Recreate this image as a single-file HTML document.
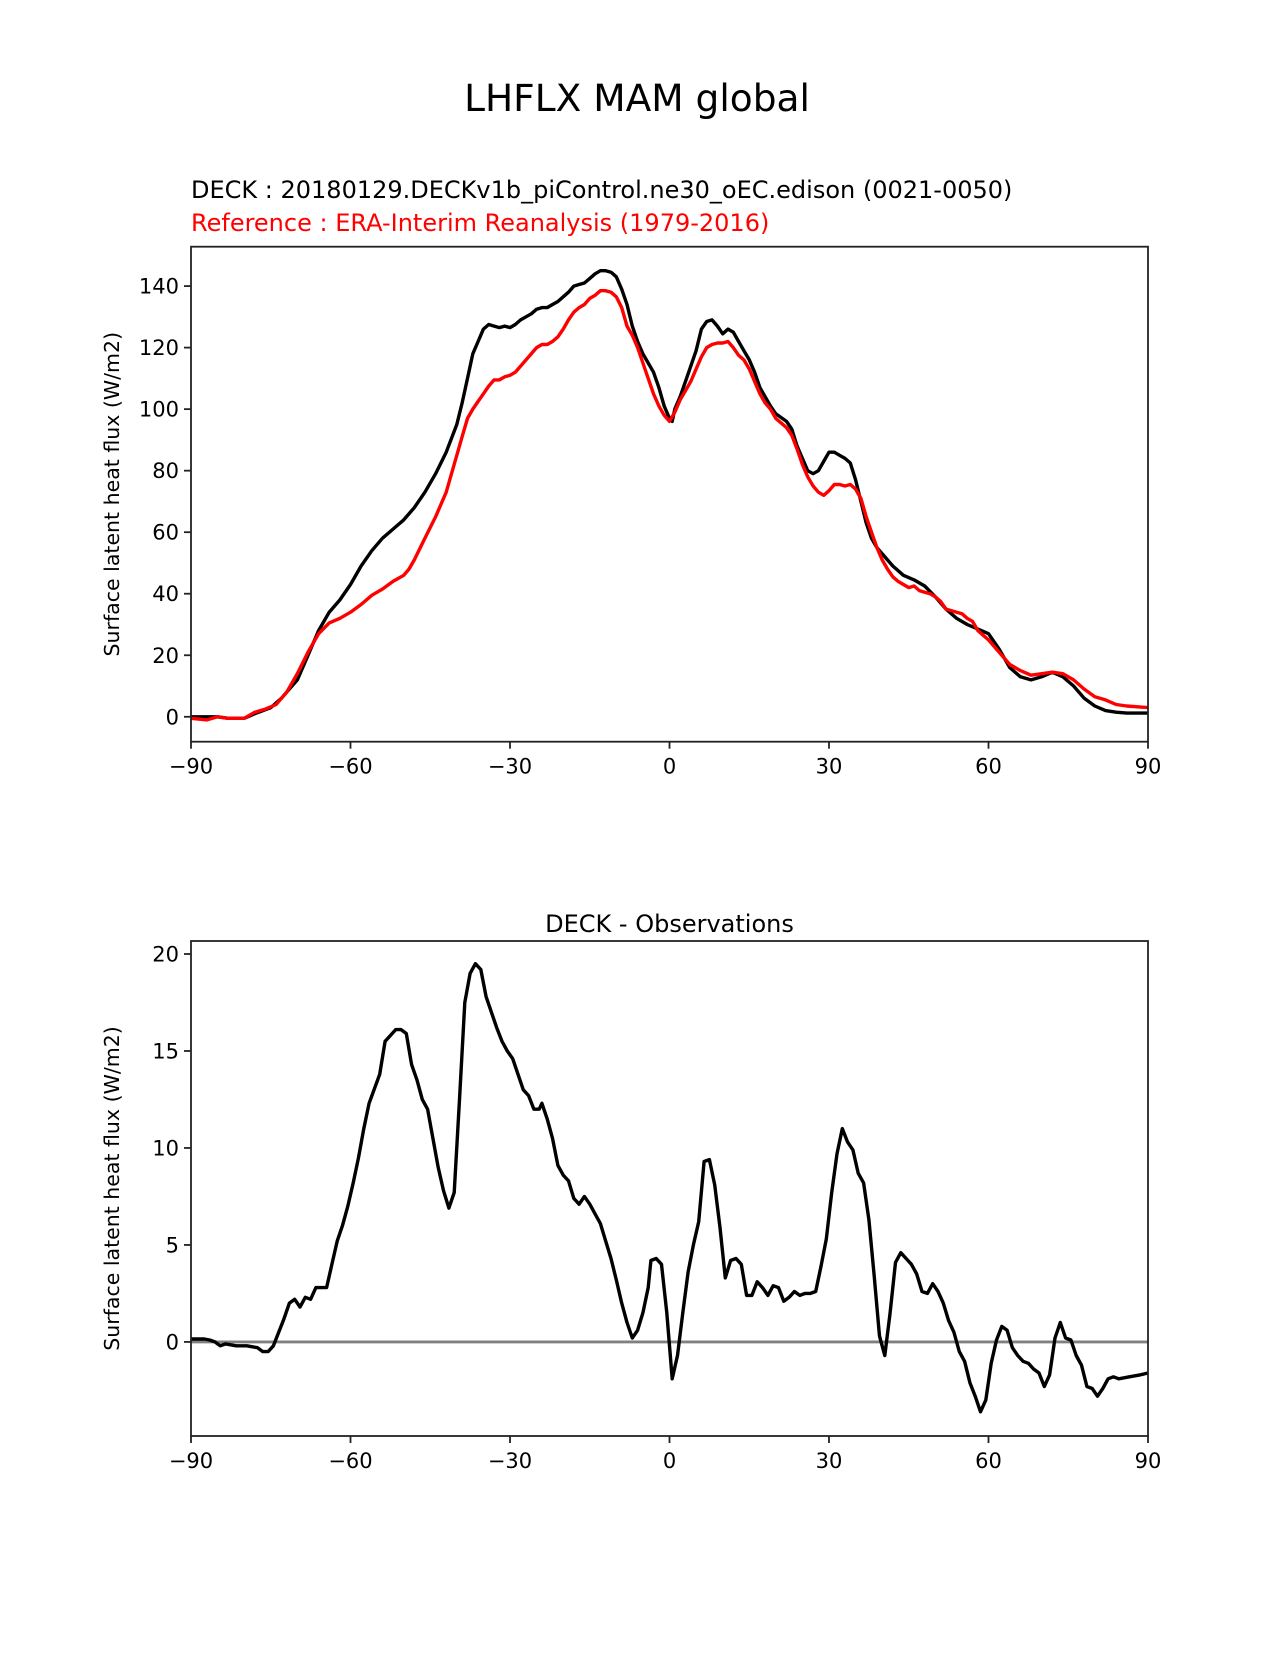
<!DOCTYPE html>
<html><head><meta charset="utf-8"><style>
html,body{margin:0;padding:0;background:#fff}
svg text{font-family:"DejaVu Sans","Liberation Sans",sans-serif}
</style></head><body>
<svg id="fig" width="1275" height="1650" viewBox="0 0 1275 1650" xmlns="http://www.w3.org/2000/svg">
<rect width="1275" height="1650" fill="#fff"/>
<text x="637" y="111" font-size="37.5" text-anchor="middle">LHFLX MAM global</text>
<text x="191" y="198" font-size="24">DECK : 20180129.DECKv1b_piControl.ne30_oEC.edison (0021-0050)</text>
<text x="191" y="231" font-size="24" fill="#ff0000">Reference : ERA-Interim Reanalysis (1979-2016)</text>
<text x="669.5" y="932" font-size="24" text-anchor="middle">DECK - Observations</text>
<g id="top"></g>
<g id="bot"></g>
</svg>
<script>
const lat1=[-90,-87,-85,-83,-80,-78,-75,-73,-70,-68,-66,-64,-62,-60,-58,-56,-54,-52,-50,-48,-46,-44,-42,-40,-39,-38,-37,-36,-35,-34,-33,-32,-31,-30,-29,-28,-27,-26,-25,-24,-23,-22,-21,-20,-19,-18,-17,-16,-15,-14,-13,-12,-11,-10,-9,-8,-7,-6,-5,-4,-3,-2,-1,0,0.5,1,2,3,4,5,6,7,8,9,10,11,12,13,14,15,16,17,18,19,20,22,23,24,25,26,27,28,29,30,31,32,33,34,35,36,37,38,39,40,42,44,46,48,50,52,54,56,58,60,62,64,66,68,70,72,74,76,78,80,82,84,86,90];
const deck=[0,0,0,-0.5,-0.5,1,3,6,12,20,28,34,38,43,49,54,58,61,64,68,73,79,86,95,102,110,118,122,126,127.5,127,126.5,127,126.5,127.5,129,130,131,132.5,133,133,134,135,136.5,138,140,140.5,141,142.5,144,145,145,144.5,143,139,134,127,122,118,115,112,107,101,97,96,100,104,109,114,119,126,128.5,129,127,124.5,126,125,122,119,116,112,107,104,101,98.5,96,93.5,88,84,80,79,80,83,86,86,85,84,82.5,77,70,63,58,55,53,49,46,44.5,42.5,39,35,32,30,28.5,27,22,16,13,12,13,14.5,13,10,6,3.5,2,1.5,1.2,1.2];
const lat2=[-90,-87,-85,-83,-80,-78,-76,-74,-72,-70,-68,-66,-64,-62,-60,-58,-56,-54,-52,-50,-49,-48,-46,-44,-42,-41,-40,-39,-38,-37,-36,-35,-34,-33,-32,-31,-30,-29,-28,-27,-26,-25,-24,-23,-22,-21,-20,-19,-18,-17,-16,-15,-14,-13,-12,-11,-10,-9,-8,-7,-6,-5,-4,-3,-2,-1,0,1,2,3,4,5,6,7,8,9,10,11,12,13,14,15,16,17,18,19,20,22,23,24,25,26,27,28,29,30,31,32,33,34,35,36,37,38,39,40,41,42,43,44,45,46,47,48,49,50,51,52,53,54,55,56,57,58,59,60,62,64,66,68,70,72,74,76,78,80,82,84,86,90];
const era=[-0.5,-1,0,-0.5,-0.5,1.5,2.5,4,8,14,21,27,30.5,32,34,36.5,39.5,41.5,44,46,48,51,58,65,73,79,85,91,97,100,102.5,105,107.5,109.5,109.5,110.5,111,112,114,116,118,120,121,121,122,123.5,126,129,131.5,133,134,136,137,138.5,138.5,138,136.5,133,127,124,120,115,110,105,101,98,96,99,103,106,109,113,117,120,121,121.5,121.5,122,120,117.5,116,113,109,105,102,100,97,94,91.5,87,82,78,75,73,72,73.5,75.5,75.5,75,75.5,74,71,65,60,55,51,48,45.5,44,43,42,42.5,41,40.5,40,39,37.5,35,34.5,34,33.5,32,31,28,26.5,25,21,17,15,13.5,14,14.5,14,12,9,6.5,5.5,4,3.5,3];
const lat3=[-90,-87.5,-86.5,-85.5,-84.5,-83.5,-81.5,-79.5,-77.5,-76.5,-75.5,-74.5,-73.5,-72.5,-71.5,-70.5,-69.5,-68.5,-67.5,-66.5,-65.5,-64.5,-63.5,-62.5,-61.5,-60.5,-59.5,-58.5,-57.5,-56.5,
-54.5,-53.5,-52.5,-51.5,-50.5,-49.5,-48.5,-47.5,-46.5,-45.5,-44.5,-43.5,-42.5,-41.5,-40.5,-39.5,-38.5,-37.5,-36.5,-35.5,-34.5,-33.5,-32.5,-31.5,-30.5,-29.5,-28.5,-27.5,-26.5,-25.5,-24.5,
-24,-23,-22,-21,-20,-19,-18,-17,-16,-15,-14,-13,-12,-11,-10,-9,-8,-7,-6,-5,-4,
-3.5,-2.5,-1.5,-0.5,0.5,1.5,2.5,3.5,4.5,5.5,6.5,7.5,8.5,9.5,10.5,11.5,12.5,13.5,14.5,15.5,16.5,17.5,18.5,19.5,20.5,21.5,22.5,23.5,24.5,25.5,26.5,27.5,28.5,29.5,30.5,31.5,32.5,33.5,34.5,35.5,36.5,37.5,38.5,39.5,40.5,41.5,42.5,43.5,44.5,45.5,46.5,47.5,48.5,49.5,50.5,51.5,52.5,53.5,54.5,55.5,56.5,57.5,58.5,59.5,60.5,61.5,62.5,63.5,64.5,65.5,66.5,67.5,68.5,69.5,70.5,71.5,72.5,73.5,74.5,75.5,76.5,77.5,78.5,79.5,80.5,81.5,82.5,83.5,84.5,86.5,88.5,90];
const diff=[0.15,0.15,0.1,0,-0.2,-0.1,-0.2,-0.2,-0.3,-0.5,-0.5,-0.2,0.5,1.2,2.0,2.2,1.8,2.3,2.2,2.8,2.8,2.8,4,5.2,6,7,8.2,9.5,11,12.3,13.8,15.5,15.8,16.1,16.1,15.9,14.3,13.5,12.5,12,10.5,9,7.8,6.9,7.7,12.5,17.5,19,19.5,19.2,17.8,17,16.2,15.5,15,14.6,13.8,13.0,12.7,12,12,12.3,11.5,10.5,9.1,8.6,8.3,7.4,7.1,7.5,7.1,6.6,6.1,5.2,4.3,3.2,2,1,0.2,0.6,1.5,2.8,4.2,4.3,4.0,1.5,-1.9,-0.7,1.5,3.6,5,6.2,9.3,9.4,8.1,5.9,3.3,4.2,4.3,4.0,2.4,2.4,3.1,2.8,2.4,2.9,2.8,2.1,2.3,2.6,2.4,2.5,2.5,2.6,3.9,5.3,7.7,9.7,11,10.3,9.9,8.7,8.2,6.3,3.4,0.3,-0.7,1.5,4.1,4.6,4.3,4.0,3.5,2.6,2.5,3.0,2.6,2.0,1.1,0.5,-0.5,-1.0,-2.1,-2.8,-3.6,-3.0,-1.1,0.1,0.8,0.6,-0.3,-0.7,-1.0,-1.1,-1.4,-1.6,-2.3,-1.7,0.2,1.0,0.2,0.1,-0.7,-1.2,-2.3,-2.4,-2.8,-2.4,-1.9,-1.8,-1.9,-1.8,-1.7,-1.6];
const xTicks=[-90,-60,-30,0,30,60,90];
const xTickLabels=["\u221290","\u221260","\u221230","0","30","60","90"];
const yTicksTop=[0,20,40,60,80,100,120,140];
const yTicksBot=[0,5,10,15,20];

const NS="http://www.w3.org/2000/svg";
function mk(parent,tag,attrs){const e=document.createElementNS(NS,tag);for(const k in attrs)e.setAttribute(k,attrs[k]);parent.appendChild(e);return e;}
function panel(g,top,bottom,ymin,ymax,yticks,series,zero,name){
  const L=191,R=1148;
  const sx=v=>L+(v+90)/180*(R-L);
  const sy=v=>bottom-(v-ymin)/(ymax-ymin)*(bottom-top);
  const clip=mk(g,'clipPath',{id:'clip-'+name});
  mk(clip,'rect',{x:L,y:top,width:R-L,height:bottom-top});
  if(zero){const z=mk(g,'line',{x1:L,x2:R,y1:sy(0),y2:sy(0),stroke:'#808080','stroke-width':2.8});
    
    }
  series.forEach(s=>{
    const d=s.x.map((x,i)=>(i?'L':'M')+sx(x).toFixed(1)+','+sy(s.y[i]).toFixed(1)).join('');
    const p=mk(g,'path',{d:d,fill:'none',stroke:s.c,'stroke-width':3.4,'stroke-linejoin':'round','clip-path':'url(#clip-'+name+')'});
    
    
  });
  const fr=mk(g,'rect',{x:L,y:top,width:R-L,height:bottom-top,fill:'none',stroke:'#222','stroke-width':1.8});
  
  
  xTicks.forEach((t,i)=>{
    mk(g,'line',{x1:sx(t),x2:sx(t),y1:bottom,y2:bottom+7,stroke:'#222','stroke-width':1.8});
    const tx=mk(g,'text',{x:sx(t),y:bottom+32,'font-size':21,'text-anchor':'middle'});
    tx.textContent=xTickLabels[i];
    
    
  });
  yticks.forEach(t=>{
    mk(g,'line',{x1:L-7,x2:L,y1:sy(t),y2:sy(t),stroke:'#222','stroke-width':1.8});
    const tx=mk(g,'text',{x:L-12,y:sy(t)+7.5,'font-size':21,'text-anchor':'end'});
    tx.textContent=t;
    
    
  });
  const cy=(top+bottom)/2;
  const yl=mk(g,'text',{x:0,y:0,'font-size':20.5,'text-anchor':'middle',transform:`translate(${L-72},${cy}) rotate(-90)`});
  yl.textContent='Surface latent heat flux (W/m2)';
  
  
}
panel(document.getElementById('top'),246.7,741.7,-8.1,152.8,yTicksTop,
  [{x:lat1,y:deck,c:'#000',n:'deck-line'},{x:lat2,y:era,c:'#ff0000',n:'era-interim-line'}],false,'top');
panel(document.getElementById('bot'),941,1436,-4.85,20.67,yTicksBot,
  [{x:lat3,y:diff,c:'#000',n:'difference-line'}],true,'bottom');
</script>
</body></html>
